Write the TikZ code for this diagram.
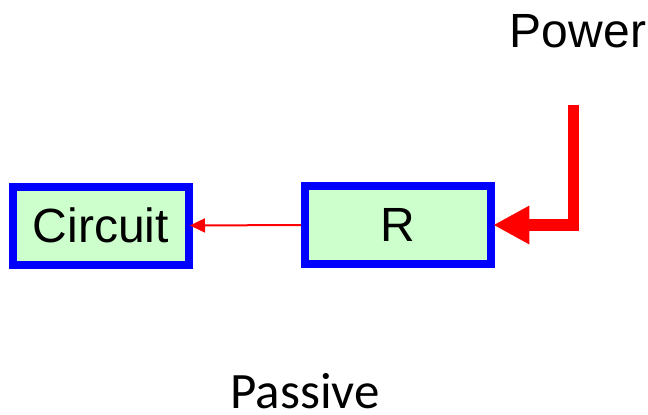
\documentclass[tikz,border=0pt]{standalone}
\usepackage{fontspec}
\setmainfont{Liberation Sans}
\newfontfamily\calibrifont{Carlito}
\usetikzlibrary{arrows.meta}
\definecolor{boxblue}{RGB}{0,0,255}
\definecolor{boxgreen}{RGB}{204,255,204}
\definecolor{wirered}{RGB}{255,0,0}
\begin{document}
\begin{tikzpicture}[x=1pt,y=-1pt,
  block/.style={draw=boxblue, fill=boxgreen, line width=8pt, inner sep=0pt,
    font=\fontsize{48}{56}\selectfont},
  signal/.style={draw=wirered, line width=2pt,
    -{Triangle[length=15pt,width=14pt]}},
  feed/.style={draw=wirered, line width=11.7pt,
    -{Triangle[length=36pt,width=36pt]}},
  label/.style={inner sep=0pt, anchor=base}]
  \useasboundingbox (0,0) rectangle (648,415);
  % the two blocks
  \node[block, minimum width=176pt, minimum height=78pt] (circuit) at (101,225.5) {Circuit};
  \node[block, minimum width=186.5pt, minimum height=77.5pt] (res) at (398,225) {R};
  % supply input
  \coordinate (src) at (573.5,105);
  \node[label, font=\fontsize{48}{56}\selectfont] (power) at (578,47) {Power};
  \node[label, font=\calibrifont\fontsize{51}{60}\selectfont] (passive) at (305,408) {Passive};
  % connectors
  \draw[feed, shorten >=-2pt] (src) |- (res.east);
  \draw[signal, shorten >=-3pt] (res.west) -- (circuit.east);
\end{tikzpicture}
\end{document}
